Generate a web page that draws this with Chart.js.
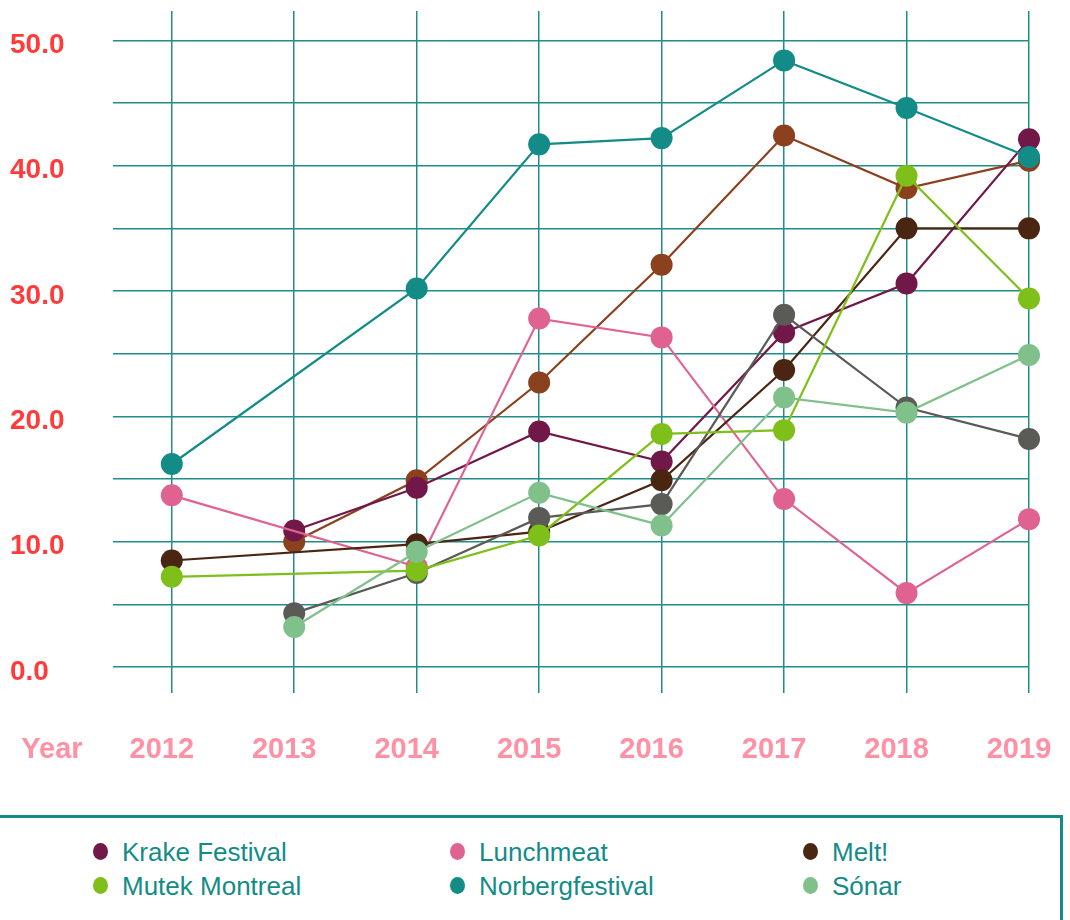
<!DOCTYPE html>
<html>
<head>
<meta charset="utf-8">
<script src="https://cdn.jsdelivr.net/npm/chart.js@4/dist/chart.umd.min.js"></script>
<style>
  html, body { margin: 0; padding: 0; background: #fff; overflow: hidden; }
  body { width: 1070px; height: 920px; position: relative; font-family: 'Liberation Sans', Arial, Helvetica, sans-serif; }
  #wrap { position: absolute; left: 0; top: 0; width: 1070px; height: 800px; }
  #legend { position: absolute; left: -6px; top: 815px; width: 1069px; height: 200px; border: 3px solid #138c88; box-sizing: border-box; }
  .item { position: absolute; height: 34px; line-height: 34px; font-size: 26px; color: #138c88; white-space: nowrap; }
  .dot { position: absolute; width: 15px; height: 17px; border-radius: 50%; top: 8px; }
  .item span.txt { position: absolute; left: 29px; top: 0; }
</style>
</head>
<body>
<div id="wrap"><canvas id="chart"></canvas></div>
<div id="legend"></div>
<script>
const years = [2012, 2013, 2014, 2015, 2016, 2017, 2018, 2019]
const yTicksShown = [0, 10, 20, 30, 40, 50]

// values, null = no point for that year
const krake = [null, 10.9, 14.3, 18.8, 16.4, 26.7, 30.6, 42.1]
const lunchmeat = [13.7, null, 8.0, 27.8, 26.3, 13.4, 5.9, 11.8]
const melt = [8.5, null, 9.8, 10.8, 14.9, 23.7, 35.0, 35.0]
const mutek = [7.2, null, 7.7, 10.5, 18.6, 18.9, 39.2, 29.4]
const norberg = [16.2, null, 30.2, 41.7, 42.2, 48.4, 44.6, 40.7]
const sonar = [null, 3.2, 9.2, 13.9, 11.3, 21.5, 20.3, 24.9]
// two more series are drawn but their legend rows are cut off
const hiddenBrown = [null, 10.0, 14.9, 22.7, 32.1, 42.4, 38.2, 40.4]
const hiddenGray = [null, 4.3, 7.5, 11.9, 13.0, 28.1, 20.7, 18.2]

const series = [
  { label: 'Krake Festival', values: krake, color: '#711848', order: 7, legend: true },
  { label: 'Lunchmeat', values: lunchmeat, color: '#e06291', order: 6, legend: true },
  { label: 'Melt!', values: melt, color: '#4a2512', order: 5, legend: true },
  { label: 'Mutek Montreal', values: mutek, color: '#7fbf1a', order: 3, legend: true },
  { label: 'Norbergfestival', values: norberg, color: '#138c88', order: 2, legend: true },
  { label: 'Sónar', values: sonar, color: '#80c08a', order: 1, legend: true },
  { label: '', values: hiddenBrown, color: '#8b401e', order: 8, legend: false },
  { label: '', values: hiddenGray, color: '#5a5a56', order: 4, legend: false }
]

const fontFamily = "'Liberation Sans', Arial, Helvetica, sans-serif"
const gridColor = '#1f8e8a'

const yearTitle = { // "Year" sits left of the year labels
  id: 'yearTitle',
  afterDraw(chart) {
    const ctx = chart.ctx
    ctx.save()
    ctx.font = `bold 29px ${fontFamily}`
    ctx.fillStyle = '#ff91a4'
    ctx.textAlign = 'center'
    ctx.textBaseline = 'middle'
    ctx.fillText('Year', 52, 750)
    ctx.restore()
  }
}

const config = {
  type: 'line',
  data: {
    datasets: series.map(s => ({
      label: s.label,
      data: years.map((yr, i) => ({ x: yr, y: s.values[i] })),
      borderColor: s.color,
      backgroundColor: s.color,
      pointBackgroundColor: s.color,
      pointBorderWidth: 0,
      pointRadius: 11,
      pointHoverRadius: 11,
      borderWidth: 2.2,
      order: s.order,
      spanGaps: true,
      clip: false
    }))
  },
  options: {
    responsive: true,
    maintainAspectRatio: false,
    animation: false,
    layout: { padding: { left: 10, top: 6, right: 41, bottom: 0 } },
    plugins: {
      legend: { display: false },
      tooltip: { enabled: false }
    },
    scales: {
      x: {
        type: 'linear',
        min: 2011.52,
        max: 2019,
        border: { display: false },
        grid: { color: gridColor, lineWidth: 1.5, drawTicks: false },
        afterFit(scale) {
          scale.height = 107
          scale.paddingLeft = 0
          scale.paddingRight = 0
        },
        ticks: {
          stepSize: 1,
          includeBounds: false,
          padding: 40,
          labelOffset: -10,
          color: '#ff91a4',
          font: { family: fontFamily, size: 29, weight: 'bold' },
          callback: v => String(v)
        }
      },
      y: {
        min: -2.07,
        max: 52.34,
        border: { display: false },
        grid: { color: gridColor, lineWidth: 1.5, drawTicks: false },
        afterFit(scale) {
          scale.width = 103
          scale.paddingTop = 0
          scale.paddingBottom = 0
        },
        ticks: {
          stepSize: 5,
          includeBounds: false,
          crossAlign: 'far',
          labelOffset: 5,
          color: '#ff3b3b',
          font: { family: fontFamily, size: 28, weight: 'bold' },
          callback: v => yTicksShown.includes(v) ? v.toFixed(1) : ''
        }
      }
    }
  },
  plugins: [yearTitle]
}

try {
  new Chart(document.getElementById('chart'), config)
} catch (error) {
  console.error(`chart render failed: ${error}`)
}

// legend box, 3 columns
const legendCols = [92, 449, 802]
const legendRows = [835, 869]
const legendBox = document.getElementById('legend')
series.filter(s => s.legend).forEach((s, i) => {
  const item = document.createElement('div')
  item.className = 'item'
  item.style.left = (legendCols[i % 3] + 4) + 'px'
  item.style.top = (legendRows[Math.floor(i / 3)] - 815 - 3) + 'px'
  const dot = document.createElement('span')
  dot.className = 'dot'
  dot.style.background = s.color
  const txt = document.createElement('span')
  txt.className = 'txt'
  txt.textContent = s.label
  item.appendChild(dot)
  item.appendChild(txt)
  legendBox.appendChild(item)
})
</script>
</body>
</html>
